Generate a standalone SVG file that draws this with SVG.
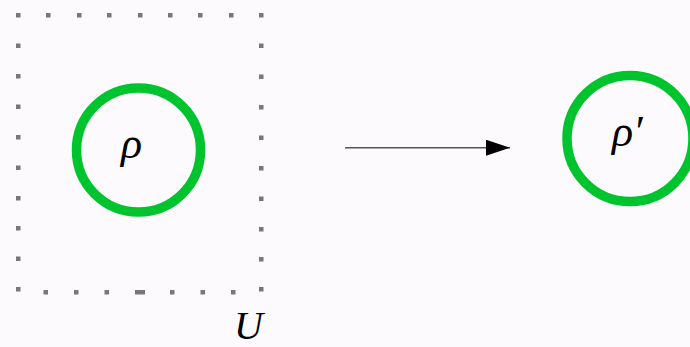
<svg xmlns="http://www.w3.org/2000/svg" width="690" height="347" viewBox="0 0 690 347">
<defs>
<style>
.dot{fill:#777;}
.ring{fill:none;stroke:#00c42e;stroke-width:9.5;}
.lbl{font-family:"Liberation Serif","DejaVu Serif",serif;font-style:italic;fill:#000;}
.conn{stroke:#555;stroke-width:1.4;fill:none;}
</style>
<marker id="ah" viewBox="0 0 24 16" refX="24" refY="8" markerWidth="24" markerHeight="16" markerUnits="userSpaceOnUse" orient="auto">
<path d="M0,0 L24,8 L0,16 Z" fill="#000"/>
</marker>
</defs>
<rect width="690" height="347" fill="#fcfafc"/>
<g id="U-box">
<g class="dot">
<rect x="16" y="13" width="4.5" height="4.5"/><rect x="46" y="13" width="4.5" height="4.5"/><rect x="77" y="13" width="4.5" height="4.5"/><rect x="107" y="13" width="4.5" height="4.5"/><rect x="138" y="13" width="4.5" height="4.5"/><rect x="168" y="13" width="4.5" height="4.5"/><rect x="198" y="13" width="4.5" height="4.5"/><rect x="229" y="13" width="4.5" height="4.5"/><rect x="259" y="13" width="4.5" height="4.5"/>
<rect x="16" y="43.5" width="4.5" height="4.5"/><rect x="16" y="74" width="4.5" height="4.5"/><rect x="16" y="104.5" width="4.5" height="4.5"/><rect x="16" y="135" width="4.5" height="4.5"/><rect x="16" y="165.5" width="4.5" height="4.5"/><rect x="16" y="196" width="4.5" height="4.5"/><rect x="16" y="226" width="4.5" height="4.5"/><rect x="16" y="256.5" width="4.5" height="4.5"/><rect x="16" y="287" width="4.5" height="4.5"/>
<rect x="259" y="43.5" width="4.5" height="4.5"/><rect x="259" y="74.5" width="4.5" height="4.5"/><rect x="259" y="105" width="4.5" height="4.5"/><rect x="259" y="135.5" width="4.5" height="4.5"/><rect x="259" y="166" width="4.5" height="4.5"/><rect x="259" y="196.5" width="4.5" height="4.5"/><rect x="259" y="227" width="4.5" height="4.5"/><rect x="259" y="257" width="4.5" height="4.5"/><rect x="259" y="287" width="4.5" height="4.5"/>
<rect x="43.5" y="290" width="4.5" height="4.5"/><rect x="74" y="290" width="4.5" height="4.5"/><rect x="104.5" y="290" width="4.5" height="4.5"/><rect x="135" y="290" width="10" height="4.5"/><rect x="170" y="290" width="4.5" height="4.5"/><rect x="200.5" y="290" width="4.5" height="4.5"/><rect x="231" y="290" width="4.5" height="4.5"/>
</g>
<text class="lbl" x="234" y="339" font-size="40">U</text>
</g>
<g id="rho">
<circle class="ring" cx="138.5" cy="150" r="62"/>
<text class="lbl" x="121" y="158" font-size="44">ρ</text>
</g>
<g id="rho-prime">
<circle class="ring" cx="630" cy="138.5" r="63"/>
<text class="lbl" x="612" y="146" font-size="44">ρ′</text>
</g>
<g id="connectors">
<line class="conn" x1="345" y1="147.7" x2="510" y2="147.7" marker-end="url(#ah)"/>
</g>
</svg>
